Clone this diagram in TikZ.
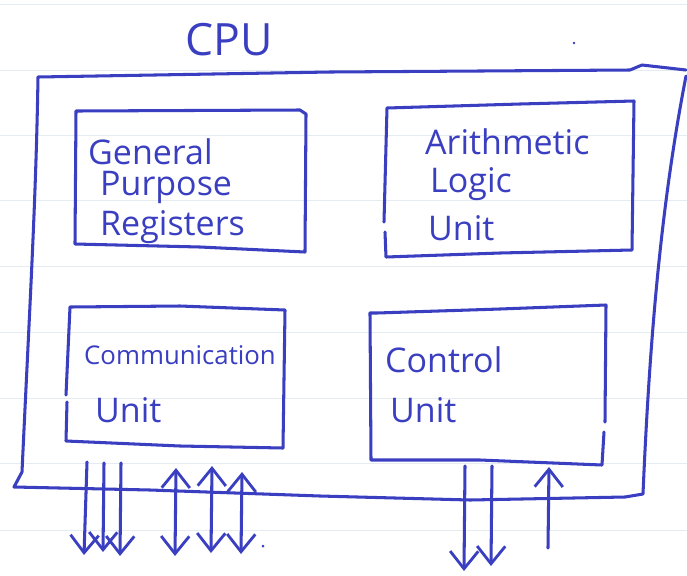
\documentclass[tikz,border=0pt]{standalone}
\usepackage{fontspec}
\setmainfont{Open Sans}
\usetikzlibrary{arrows.meta}
\definecolor{ink}{RGB}{58,62,192}
\definecolor{paper}{RGB}{228,236,242}
\tikzset{
  pen/.style={draw=ink, line width=2.6pt, line cap=round, line join=round},
  label/.style={text=ink, anchor=west, inner sep=0pt, font=\fontsize{29}{32}\selectfont},
  barb/.tip={Straight Barb[length=15pt,width=24pt,line width=2.4pt]},
  arr/.style={pen, -barb},
  darr/.style={pen, barb-barb},
}
\begin{document}
\begin{tikzpicture}[x=0.03cm,y=-0.03cm]
\useasboundingbox (0,0) rectangle (687,575);
\fill[white] (0,0) rectangle (687,575);
% ruled paper
\foreach \yy in {4,70,135,200,266,332,398,463,530}
  \draw[paper, line width=0.8pt] (0,\yy) -- (687,\yy);
% title
\node[label, font=\fontsize{38}{40}\selectfont] (cpu) at (185,40) {CPU};
\fill[ink] (574,43) circle (1.3);
% outer CPU box
\draw[pen] (38,77) -- (330,72) -- (630,70) -- (642,65) -- (686,70)
  (686,76) .. controls (662,200) and (650,330) .. (643,494) -- (625,497)
  -- (470,500) -- (320,496) -- (150,490) -- (14,487) -- (22,472)
  .. controls (30,300) and (36,200) .. (38,77);
% General purpose registers
\draw[pen] (76,111) -- (300,110) -- (306,114) -- (305,252) -- (200,247) -- (75,244) -- cycle;
\node[label] (gpr1) at (88,152) {General};
\node[label] (gpr2) at (100,187) {Purpose};
\node[label] (gpr3) at (100,227) {Registers};
% ALU
\draw[pen] (387,108) -- (520,104) -- (634,101) -- (632,250) -- (500,253) -- (386,257) -- (385,232) (384,222) -- (387,108);
\node[label] (alu1) at (425,142) {Arithmetic};
\node[label] (alu2) at (430,184) {Logic};
\node[label] (alu3) at (428,228) {Unit};
% Communication unit
\draw[pen] (66,395) -- (70,307) -- (180,306) -- (285,310) -- (283,448) -- (180,446) -- (66,441) -- (67,402);
\node[label, font=\fontsize{22}{24}\selectfont] (com1) at (84,355) {Communication};
\node[label] (com2) at (95,410) {Unit};
% Control unit
\draw[pen] (605,422) -- (606,305) -- (500,309) -- (377,313) -- (370,313) -- (371,460) -- (480,460) -- (602,465) -- (604,432);
\node[label] (ctl1) at (385,360) {Control};
\node[label] (ctl2) at (390,410) {Unit};
% arrows
\coordinate (a1s) at (87,462);  \coordinate (a1e) at (84,555);
\coordinate (a2s) at (104,463); \coordinate (a2e) at (103,552);
\coordinate (a3s) at (121,463); \coordinate (a3e) at (120,556);
\coordinate (b1s) at (176,468); \coordinate (b1e) at (175,556);
\coordinate (b2s) at (212,466); \coordinate (b2e) at (211,553);
\coordinate (b3s) at (242,472); \coordinate (b3e) at (241,554);
\coordinate (c1s) at (465,466); \coordinate (c1e) at (464,571);
\coordinate (c2s) at (492,466); \coordinate (c2e) at (491,566);
\coordinate (d1s) at (548,548); \coordinate (d1e) at (549,467);
\draw[arr] (a1s) -- (a1e);
\draw[arr] (a2s) -- (a2e);
\draw[arr] (a3s) -- (a3e);
\draw[darr] (b1s) -- (b1e);
\draw[darr] (b2s) -- (b2e);
\draw[darr] (b3s) -- (b3e);
\draw[arr] (c1s) -- (c1e);
\draw[arr] (c2s) -- (c2e);
\draw[arr] (d1s) -- (d1e);
\fill[ink] (263,546) circle (1.5);
\end{tikzpicture}
\end{document}
